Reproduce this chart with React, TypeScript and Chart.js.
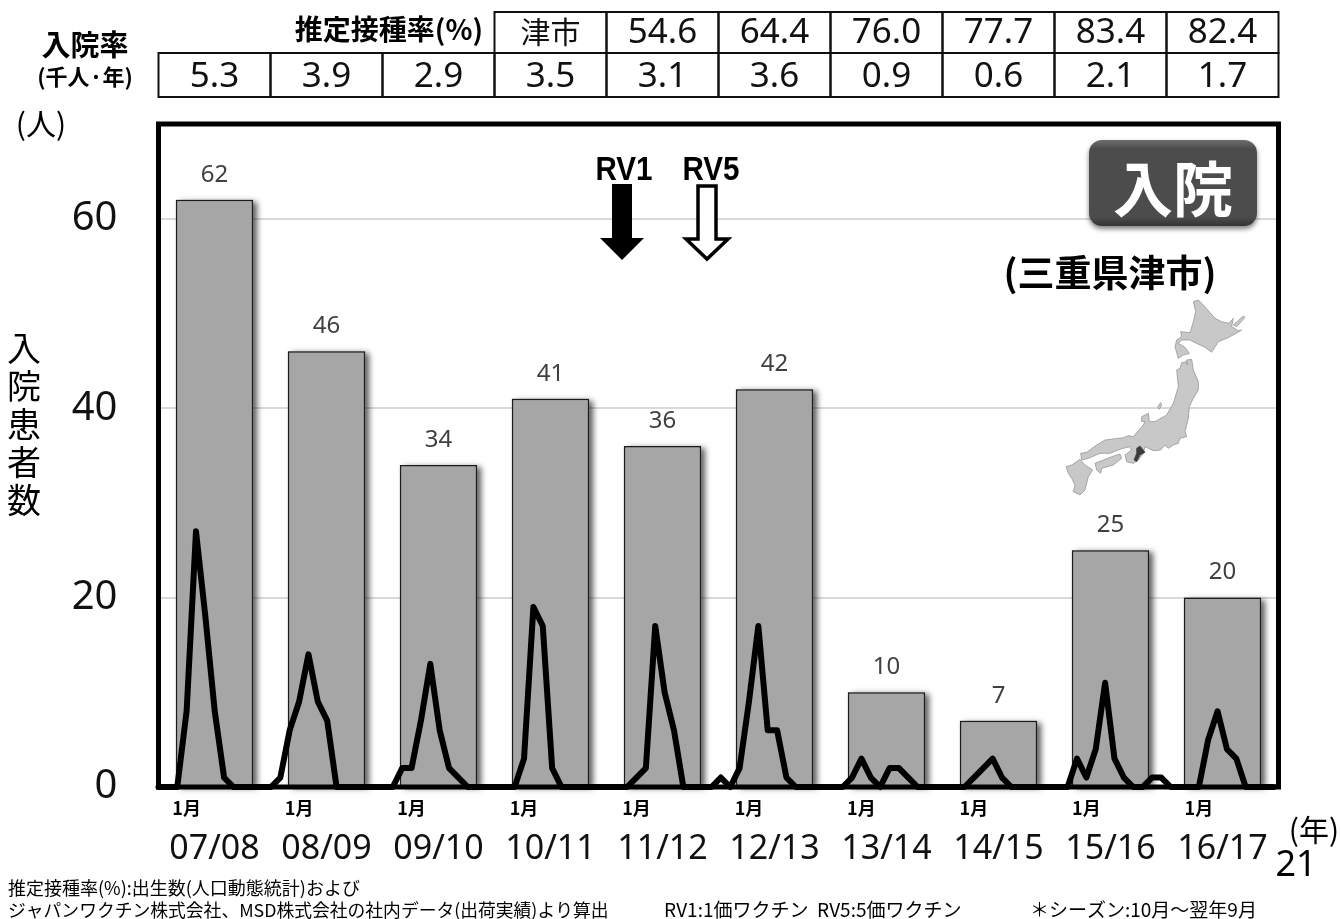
import React, { useEffect, useRef } from "react";
import { Chart, registerables } from "chart.js";

Chart.register(...registerables);

// Seasons and annual hospitalisation counts
const seasons = ["07/08", "08/09", "09/10", "10/11", "11/12", "12/13", "13/14", "14/15", "15/16", "16/17"];
const annualCases = [62, 46, 34, 41, 36, 42, 10, 7, 25, 20];

// Monthly counts per season, October through September
const monthly0708 = [0, 0, 0, 8, 27, 18, 8, 1, 0, 0, 0, 0];
const monthly0809 = [0, 1, 6, 9, 14, 9, 7, 0, 0, 0, 0, 0];
const monthly0910 = [0, 0, 2, 2, 7, 13, 6, 2, 1, 0, 0, 0];
const monthly1011 = [0, 0, 0, 3, 19, 17, 2, 0, 0, 0, 0, 0];
const monthly1112 = [0, 0, 0, 1, 2, 17, 10, 6, 0, 0, 0, 0];
const monthly1213 = [1, 0, 2, 9, 17, 6, 6, 1, 0, 0, 0, 0];
const monthly1314 = [0, 0, 1, 3, 1, 0, 2, 2, 1, 0, 0, 0];
const monthly1415 = [0, 0, 0, 1, 2, 3, 1, 0, 0, 0, 0, 0];
const monthly1516 = [0, 0, 3, 1, 4, 11, 3, 1, 0, 0, 1, 1];
const monthly1617 = [0, 0, 0, 0, 5, 8, 4, 3, 0, 0, 0, 0];

// Table above the plot
const vaccinationRates = ["津市", "54.6", "64.4", "76.0", "77.7", "83.4", "82.4"];
const hospitalisationRates = ["5.3", "3.9", "2.9", "3.5", "3.1", "3.6", "0.9", "0.6", "2.1", "1.7"];

const yTicks = [0, 20, 40, 60];
const januaryLabel = "1月";

const monthlySeries = [
  monthly0708, monthly0809, monthly0910, monthly1011, monthly1112,
  monthly1213, monthly1314, monthly1415, monthly1516, monthly1617,
].flat();

const CJK = '"Noto Sans CJK JP"';
const LATIN = '"Noto Sans"';
const ARIAL_LIKE = '"Liberation Sans"';

// Simplified outline of Japan, in a local 3x drawing space
const hokkaido = [[490,35],[505,30],[520,45],[535,62],[555,85],[575,95],[597,100],[610,85],[605,110],[625,122],[635,120],[615,132],[590,145],[565,155],[545,187],[525,172],[495,158],[480,150],[455,150],[445,160],[465,172],[478,190],[460,195],[445,205],[435,170],[440,150],[455,140],[452,125],[480,128],[490,95],[497,65]];
const kunashiri = [[610,105],[640,78],[645,82],[620,110]];
const honshu = [[450,235],[455,218],[468,215],[472,225],[470,210],[485,208],[490,240],[505,275],[505,300],[490,325],[478,350],[475,385],[465,425],[470,440],[450,445],[445,460],[430,465],[415,475],[405,465],[392,480],[370,482],[345,470],[340,490],[325,510],[310,520],[290,515],[285,495],[305,480],[298,470],[270,478],[240,490],[210,490],[175,505],[155,510],[152,490],[170,487],[200,465],[225,450],[280,443],[295,437],[310,440],[318,430],[340,405],[345,395],[335,395],[335,380],[355,370],[358,395],[375,395],[410,375],[430,340],[445,290],[440,240]];
const kyushu = [[108,530],[125,525],[150,508],[165,525],[188,540],[175,560],[165,600],[150,615],[130,605],[135,585],[125,565],[115,550]];
const shikoku = [[195,520],[220,510],[245,500],[270,492],[275,505],[250,525],[215,535],[212,550],[200,540]];
const sado = [[383,350],[392,338],[395,345],[388,358]];
const mie = [[320,475],[330,468],[345,487],[330,495],[320,515],[312,510],[320,490]];

type Ctx = CanvasRenderingContext2D;

function label(ctx: Ctx, text: string, x: number, y: number, font: string, align: CanvasTextAlign = "center", color = "#000", squeeze = 1) {
  ctx.save();
  ctx.translate(x, y);
  ctx.scale(squeeze, 1);
  ctx.font = font;
  ctx.textAlign = align;
  ctx.textBaseline = "middle";
  ctx.fillStyle = color;
  ctx.fillText(text, 0, 0);
  ctx.restore();
}

function outline(ctx: Ctx, pts: number[][], fill: string, stroke: string) {
  ctx.beginPath();
  pts.forEach(([px, py], i) => {
    const x = 1030 + px / 3;
    const y = 290 + py / 3;
    if (i === 0) ctx.moveTo(x, y);
    else ctx.lineTo(x, y);
  });
  ctx.closePath();
  ctx.fillStyle = fill;
  ctx.fill();
  ctx.lineWidth = 0.7;
  ctx.strokeStyle = stroke;
  ctx.stroke();
}

function downArrow(ctx: Ctx, cx: number, halfShaft: number, halfHead: number, top: number, neck: number, tip: number) {
  ctx.beginPath();
  ctx.moveTo(cx - halfShaft, top);
  ctx.lineTo(cx + halfShaft, top);
  ctx.lineTo(cx + halfShaft, neck);
  ctx.lineTo(cx + halfHead, neck);
  ctx.lineTo(cx, tip);
  ctx.lineTo(cx - halfHead, neck);
  ctx.lineTo(cx - halfShaft, neck);
  ctx.closePath();
}

// Soft shadow behind each annual bar; the bar element clips its own drawing,
// so the shadow is laid down first from the element's geometry.
const barShadow = {
  id: "barShadow",
  beforeDatasetDraw(chart: Chart, args: { index: number }) {
    if (args.index !== 0) return;
    const { ctx } = chart;
    ctx.save();
    ctx.shadowColor = "rgba(0,0,0,0.65)";
    ctx.shadowBlur = 6;
    ctx.shadowOffsetX = 4;
    ctx.shadowOffsetY = 2;
    ctx.fillStyle = "#a6a6a6";
    chart.getDatasetMeta(0).data.forEach((bar) => {
      const { x, y, base, width } = bar.getProps(["x", "y", "base", "width"], true);
      ctx.fillRect(x - width / 2, y, width, base - y);
    });
    ctx.restore();
  },
};

// Value labels on the bars, plot frame, vaccine arrows, badge, map, table and notes
const decorations = {
  id: "decorations",
  afterDraw(chart: Chart) {
    const { ctx, chartArea } = chart;
    const xScale = chart.scales.x;
    const cellWidth = xScale.getPixelForValue(1) - xScale.getPixelForValue(0);
    ctx.save();

    // Bar value labels
    chart.getDatasetMeta(0).data.forEach((bar, i) => {
      label(ctx, String(annualCases[i]), bar.x, bar.y - 25, `24px ${LATIN}`, "center", "#404040");
    });

    // Map of Japan with Mie highlighted
    [hokkaido, kunashiri, honshu, kyushu, shikoku, sado].forEach((pts) => outline(ctx, pts, "#c8c8c8", "#8c8c8c"));
    outline(ctx, mie, "#3c3c3c", "#3c3c3c");

    // Plot frame
    ctx.lineWidth = 5;
    ctx.strokeStyle = "#000";
    ctx.lineJoin = "miter";
    ctx.strokeRect(chartArea.left, chartArea.top, chartArea.right - chartArea.left, chartArea.bottom - chartArea.top);

    // Vaccine introduction arrows
    label(ctx, "RV1", 624, 171, `bold 34px ${ARIAL_LIKE}`, "center", "#000", 0.87);
    label(ctx, "RV5", 711, 171, `bold 34px ${ARIAL_LIKE}`, "center", "#000", 0.87);
    downArrow(ctx, 622, 10, 22, 184, 238, 260);
    ctx.fillStyle = "#000";
    ctx.fill();
    downArrow(ctx, 707, 9, 21, 186, 239, 259);
    ctx.fillStyle = "#fff";
    ctx.fill();
    ctx.lineWidth = 3.5;
    ctx.strokeStyle = "#000";
    ctx.stroke();

    // Badge
    ctx.save();
    ctx.shadowColor = "rgba(0,0,0,0.5)";
    ctx.shadowBlur = 5;
    ctx.shadowOffsetY = 3;
    const gloss = ctx.createLinearGradient(0, 140, 0, 226);
    gloss.addColorStop(0, "#6e6e6e");
    gloss.addColorStop(0.1, "#4c4c4c");
    gloss.addColorStop(0.9, "#4c4c4c");
    gloss.addColorStop(1, "#333");
    ctx.fillStyle = gloss;
    ctx.beginPath();
    ctx.roundRect(1089, 140, 168, 86, 13);
    ctx.fill();
    ctx.restore();
    label(ctx, "入院", 1173, 189, `bold 60px ${CJK}`, "center", "#fff");
    label(ctx, "(三重県津市)", 1110, 273, `bold 37px ${CJK}`);

    // Table above the plot, aligned to the seasons of the category axis
    ctx.lineWidth = 2;
    ctx.strokeStyle = "#111";
    const firstRateCell = seasons.length - vaccinationRates.length;
    seasons.forEach((_, i) => {
      const centre = xScale.getPixelForValue(i);
      ctx.strokeRect(centre - cellWidth / 2, 53, cellWidth, 44);
      if (i >= firstRateCell) ctx.strokeRect(centre - cellWidth / 2, 12, cellWidth, 41);
      label(ctx, hospitalisationRates[i], centre, 77, `35px ${LATIN}`, "center", "#111");
      if (i >= firstRateCell) {
        const text = vaccinationRates[i - firstRateCell];
        const font = i === firstRateCell ? `30px ${CJK}` : `35px ${LATIN}`;
        label(ctx, text, centre, i === firstRateCell ? 32 : 33, font, "center", "#111");
      }
    });
    label(ctx, "推定接種率(%)", 483, 29, `bold 28px ${CJK}`, "right");
    label(ctx, "入院率", 85, 45, `bold 29px ${CJK}`);
    label(ctx, "(千人·年)", 85, 77, `bold 22px ${CJK}`);

    // Axis captions
    label(ctx, "(人)", 41, 124, `30px ${CJK}`);
    Array.from("入院患者数").forEach((ch, i) => {
      label(ctx, ch, 24, 348 + i * 38, `34px ${CJK}`);
    });
    label(ctx, "(年)", 1314, 830, `30px ${CJK}`);
    label(ctx, "21", 1296, 866, `36px ${LATIN}`);

    // Footnotes
    label(ctx, "推定接種率(%):出生数(人口動態統計)および", 8, 888, `18px ${CJK}`, "left");
    label(ctx, "ジャパンワクチン株式会社、MSD株式会社の社内データ(出荷実績)より算出", 8, 910, `17.8px ${CJK}`, "left");
    label(ctx, "RV1:1価ワクチン  RV5:5価ワクチン", 664, 910, `19px ${CJK}`, "left");
    label(ctx, "＊シーズン:10月～翌年9月", 1030, 910, `19px ${CJK}`, "left");
    ctx.restore();
  },
};

export default function App() {
  const canvasRef = useRef<HTMLCanvasElement | null>(null);

  useEffect(() => {
    const canvas = canvasRef.current;
    if (!canvas) return;
    const chart = new Chart(canvas, {
      type: "bar",
      data: {
        labels: seasons,
        datasets: [
          {
            type: "bar",
            data: annualCases,
            xAxisID: "x",
            yAxisID: "y",
            backgroundColor: "#a6a6a6",
            borderColor: "#1c1c1c",
            borderWidth: 1.5,
            grouped: false,
            categoryPercentage: 1,
            barPercentage: 0.69,
            order: 2,
          },
          {
            type: "line",
            data: monthlySeries.map((y, x) => ({ x, y })),
            xAxisID: "months",
            yAxisID: "y",
            borderColor: "#000",
            borderWidth: 6,
            borderJoinStyle: "round",
            borderCapStyle: "round",
            tension: 0,
            pointRadius: 0,
            clip: false,
            order: 1,
          },
        ],
      },
      options: {
        responsive: false,
        animation: false,
        layout: { padding: { top: 124, right: 62.5, left: 0, bottom: 0 } },
        plugins: { legend: { display: false }, tooltip: { enabled: false } },
        scales: {
          y: {
            min: 0,
            max: 70,
            afterBuildTicks(scale) {
              scale.ticks = yTicks.map((value) => ({ value }));
            },
            afterFit(scale) {
              scale.width = 158.5;
            },
            ticks: {
              padding: 41,
              color: "#111",
              font: { family: "Noto Sans", size: 40 },
            },
            grid: {
              drawTicks: false,
              lineWidth: 2,
              color: (c) => (c.tick.value === 0 ? "rgba(0,0,0,0)" : "#d9d9d9"),
            },
            border: { display: false },
          },
          months: {
            type: "linear",
            position: "bottom",
            weight: 0,
            offset: false,
            min: 0,
            max: 119.5,
            afterBuildTicks(scale) {
              scale.ticks = seasons.map((_, i) => ({ value: 3 + i * 12 }));
            },
            afterFit(scale) {
              scale.height = 34;
            },
            ticks: {
              autoSkip: false,
              maxRotation: 0,
              padding: 10,
              color: "#000",
              callback: () => januaryLabel,
              font: { family: "Noto Sans CJK JP", size: 18, weight: "bold" },
            },
            grid: { display: false, drawTicks: false },
            border: { display: false },
          },
          x: {
            type: "category",
            position: "bottom",
            weight: 1,
            afterFit(scale) {
              scale.height = 98;
            },
            ticks: {
              autoSkip: false,
              maxRotation: 0,
              padding: 8,
              color: "#111",
              font: { family: "Noto Sans", size: 34 },
            },
            grid: { display: false, drawTicks: false },
            border: { display: false },
          },
        },
      },
      plugins: [barShadow, decorations],
    });
    return () => chart.destroy();
  }, []);

  return (
    <div style={{ position: "fixed", left: 0, top: 0, width: 1341, height: 919, overflow: "hidden", background: "#fff" }}>
      <canvas ref={canvasRef} width={1341} height={919} style={{ display: "block" }} />
    </div>
  );
}
